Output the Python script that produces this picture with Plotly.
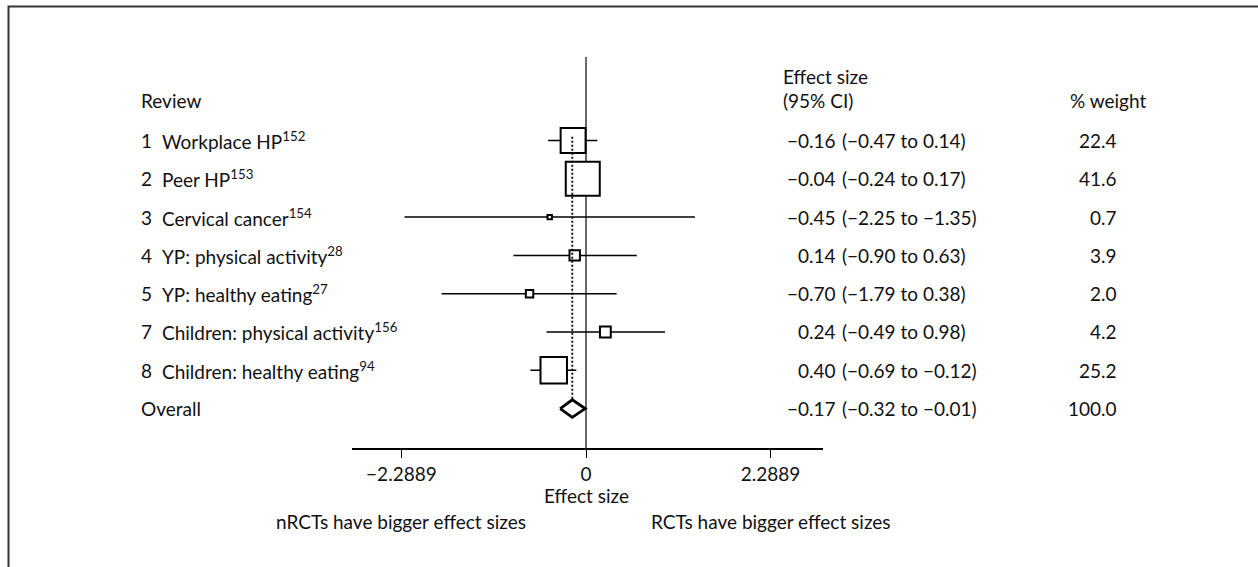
import plotly.graph_objects as go
import numpy as np

W, H = 1258, 567

# ---------------- data ----------------
numbers = ["1", "2", "3", "4", "5", "7", "8"]
studies = ["Workplace HP", "Peer HP", "Cervical cancer", "YP: physical activity",
           "YP: healthy eating", "Children: physical activity", "Children: healthy eating"]
refs = ["152", "153", "154", "28", "27", "156", "94"]
effect = [-0.16, -0.04, -0.45, -0.14, -0.70, 0.24, -0.40]
ci_low = [-0.47, -0.24, -2.25, -0.90, -1.79, -0.49, -0.69]
ci_high = [0.14, 0.17, 1.35, 0.63, 0.38, 0.98, -0.12]
weights = [22.4, 41.6, 0.7, 3.9, 2.0, 4.2, 25.2]
effect_text = ["−0.16", "−0.04", "−0.45", "0.14", "−0.70", "0.24", "0.40"]
ci_text = ["(−0.47 to 0.14)", "(−0.24 to 0.17)", "(−2.25 to −1.35)", "(−0.90 to 0.63)",
           "(−1.79 to 0.38)", "(−0.49 to 0.98)", "(−0.69 to −0.12)"]
weight_text = ["22.4", "41.6", "0.7", "3.9", "2.0", "4.2", "25.2"]
overall_effect = -0.17
overall_low = -0.32
overall_high = -0.01
overall_effect_text = "−0.17"
overall_ci_text = "(−0.32 to −0.01)"
overall_weight_text = "100.0"
tick_vals = [-2.2889, 0, 2.2889]
tick_text = ["−2.2889", "0", "2.2889"]

# ---------------- layout helpers ----------------
FONT = "Lato"
FS = 19
TXT = "#111111"
n = len(studies)
rows = list(range(n))
overall_row = n

ROW0_PX, ROW_STEP = 140.5, 38.3
TOP_PX, AXIS_PX = 57, 448
X_LEFT_PX, X_RIGHT_PX = 352, 823


def px2paper_y(py):
    return 1 - py / H


def px2paper_x(px):
    return px / W


y_top = (TOP_PX - ROW0_PX) / ROW_STEP
y_bot = (AXIS_PX - ROW0_PX) / ROW_STEP

fig = go.Figure()

# CI lines
cx, cy = [], []
for r, lo, hi in zip(rows, ci_low, ci_high):
    cx += [lo, hi, None]
    cy += [r, r, None]
fig.add_trace(go.Scatter(x=cx, y=cy, mode="lines",
                         line=dict(color="black", width=1.5), hoverinfo="skip"))

# weight boxes
wmax = max(weights)
sizes = [34 * np.sqrt(w / wmax) for w in weights]
fig.add_trace(go.Scatter(x=effect, y=rows, mode="markers",
                         marker=dict(symbol="square", size=sizes, color="white", opacity=1,
                                     line=dict(color="black", width=2)),
                         hoverinfo="skip"))

# overall diamond
dh = 0.23
fig.add_trace(go.Scatter(
    x=[overall_low, overall_effect, overall_high, overall_effect, overall_low],
    y=[overall_row, overall_row - dh, overall_row, overall_row + dh, overall_row],
    mode="lines", fill="toself", fillcolor="white",
    line=dict(color="black", width=2.8), hoverinfo="skip"))

# overall dotted line
fig.add_trace(go.Scatter(x=[overall_effect, overall_effect], y=[-0.1, overall_row - dh],
                         mode="lines", line=dict(color="black", width=1.8, dash="2px,2px"),
                         hoverinfo="skip"))

# null line
fig.add_shape(type="line", xref="x", yref="y domain", x0=0, x1=0, y0=0, y1=1,
              line=dict(color="#444444", width=1.6), layer="below")

# border (partially cropped box)
fig.add_shape(type="rect", xref="paper", yref="paper",
              x0=px2paper_x(8.5), x1=px2paper_x(W + 20),
              y0=px2paper_y(H + 20), y1=px2paper_y(6.5),
              line=dict(color="#333333", width=2), fillcolor="rgba(0,0,0,0)")

ann = []


def add_text(text, x, y, xanchor="left", xref="paper", yref="y", size=FS):
    ann.append(dict(text=text, x=x, y=y, xref=xref, yref=yref, xanchor=xanchor,
                    yanchor="middle", showarrow=False,
                    font=dict(family=FONT, size=size, color=TXT)))


LX = lambda px: px2paper_x(px - 2)   # left-anchored text start
RX = lambda px: px2paper_x(px + 2)   # right-anchored text end

# headers
add_text("Review", LX(141), px2paper_y(100.5), yref="paper")
add_text("Effect size", LX(783), px2paper_y(76), yref="paper")
add_text("(95% CI)", LX(783), px2paper_y(101), yref="paper")
add_text("% weight", LX(1070), px2paper_y(101), yref="paper")

for r in rows:
    add_text(numbers[r], LX(141), r)
    add_text(f"{studies[r]}<sup>{refs[r]}</sup>", LX(162), r)
    add_text(effect_text[r], RX(836), r, xanchor="right")
    add_text(ci_text[r], LX(842), r)
    add_text(weight_text[r], RX(1117), r, xanchor="right")

add_text("Overall", LX(141), overall_row)
add_text(overall_effect_text, RX(836), overall_row, xanchor="right")
add_text(overall_ci_text, LX(842), overall_row)
add_text(overall_weight_text, RX(1117), overall_row, xanchor="right")

# axis title and direction labels
ann.append(dict(text="Effect size", x=tick_vals[1], y=px2paper_y(495), xref="x", yref="paper",
                xanchor="center", yanchor="middle", showarrow=False,
                font=dict(family=FONT, size=FS, color=TXT)))
ann.append(dict(text="nRCTs have bigger effect sizes", x=tick_vals[0], y=px2paper_y(521),
                xref="x", yref="paper", xanchor="center", yanchor="middle", showarrow=False,
                font=dict(family=FONT, size=FS, color=TXT)))
ann.append(dict(text="RCTs have bigger effect sizes", x=tick_vals[2], y=px2paper_y(521),
                xref="x", yref="paper", xanchor="center", yanchor="middle", showarrow=False,
                font=dict(family=FONT, size=FS, color=TXT)))

x_scale = 80.65
x_range = [(X_LEFT_PX - 586) / x_scale, (X_RIGHT_PX - 586) / x_scale]

fig.update_layout(
    width=W, height=H,
    margin=dict(l=0, r=0, t=0, b=0),
    paper_bgcolor="white", plot_bgcolor="white",
    showlegend=False,
    annotations=ann,
    xaxis=dict(domain=[px2paper_x(X_LEFT_PX), px2paper_x(X_RIGHT_PX)],
               range=x_range, showgrid=False, zeroline=False,
               showline=True, linecolor="black", linewidth=1.6,
               ticks="outside", ticklen=8, tickwidth=1.2, tickcolor="black",
               tickvals=tick_vals, ticktext=tick_text,
               tickfont=dict(family=FONT, size=FS, color=TXT),
               fixedrange=True),
    yaxis=dict(domain=[px2paper_y(AXIS_PX), px2paper_y(TOP_PX)],
               range=[y_bot, y_top], visible=False, showgrid=False,
               zeroline=False, fixedrange=True),
)

fig.write_html("out.html", config={"displayModeBar": False},
               post_script="document.body.style.margin='0px';document.body.style.overflow='hidden';")
